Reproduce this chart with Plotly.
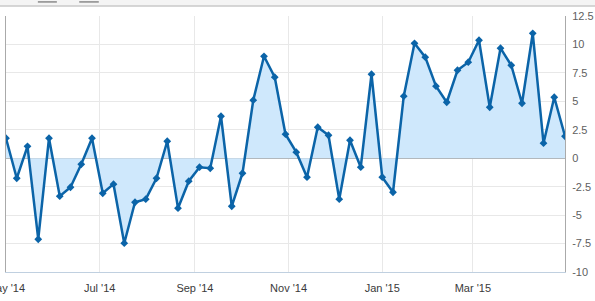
import pandas as pd
import plotly.graph_objects as go

start_date = "2014-05-01"
n_weeks = 53
values = [1.76, -1.76, 1.05, -7.12, 1.76, -3.34, -2.55, -0.53, 1.76, -3.08,
          -2.28, -7.47, -3.87, -3.60, -1.76, 1.49, -4.39, -2.02, -0.79, -0.88,
          3.69, -4.22, -1.32, 5.10, 8.96, 7.12, 2.11, 0.53, -1.67, 2.72,
          2.02, -3.60, 1.58, -0.79, 7.38, -1.67, -2.99, 5.45, 10.1, 8.88,
          6.33, 4.92, 7.73, 8.44, 10.37, 4.48, 9.67, 8.17, 4.83, 10.98,
          1.32, 5.36, 1.93]
y_tickvals = [12.5, 10, 7.5, 5, 2.5, 0, -2.5, -5, -7.5, -10]
y_ticktext = ["12.5", "10", "7.5", "5", "2.5", "0", "-2.5", "-5", "-7.5", "-10"]

dates = pd.date_range(start_date, periods=n_weeks, freq="7D")

LINE = "#0b64a8"
FILL = "#cfe8fc"

fig = go.Figure()
fig.add_trace(go.Scatter(
    x=dates, y=values, mode="lines+markers",
    line=dict(color=LINE, width=2.5),
    marker=dict(symbol="diamond", size=6, color=LINE),
    fill="tozeroy", fillcolor=FILL, showlegend=False,
))

fig.update_layout(
    width=595, height=301,
    margin=dict(l=6, r=30, t=16, b=29),
    paper_bgcolor="white", plot_bgcolor="white",
    font=dict(family="Liberation Sans, Arial, sans-serif", size=11, color="#555"),
    xaxis=dict(
        range=[dates[0], dates[-1]],
        tick0=start_date, dtick="M2", tickformat="%b '%y",
        showgrid=True, gridcolor="#e8e8e8", gridwidth=1,
        showline=True, linecolor="#c0d0e0", linewidth=1,
        ticks="", tickfont=dict(color="#3a3a3a", size=11),
        ticklabelstandoff=6, zeroline=False,
        ticklabeloverflow="allow", automargin=False,
    ),
    yaxis=dict(
        side="right", range=[-10, 12.5],
        tickvals=y_tickvals, ticktext=y_ticktext,
        showgrid=True, gridcolor="#e8e8e8", gridwidth=1,
        showline=True, mirror=True, linecolor="#aaaaaa", linewidth=1,
        zeroline=True, zerolinecolor="#a8a8a8", zerolinewidth=1,
        ticks="", tickfont=dict(color="#606060", size=11),
        ticklabelstandoff=4, automargin=False,
    ),
    shapes=[
        dict(type="rect", xref="paper", yref="paper",
             x0=-0.02, x1=1.06, y0=1.04, y1=1.07,
             fillcolor="#f4f4f4", line=dict(width=0), layer="below"),
        dict(type="line", xref="paper", yref="paper",
             x0=-0.02, x1=1.06, y0=1.039, y1=1.039,
             line=dict(color="#c8c8c8", width=1.5)),
        dict(type="line", xref="paper", yref="paper",
             x0=0.057, x1=0.091, y0=1.055, y1=1.055,
             line=dict(color="#8a8a8a", width=1.5)),
        dict(type="line", xref="paper", yref="paper",
             x0=0.131, x1=0.166, y0=1.055, y1=1.055,
             line=dict(color="#8a8a8a", width=1.5)),
    ],
)

fig.write_html("out.html")
